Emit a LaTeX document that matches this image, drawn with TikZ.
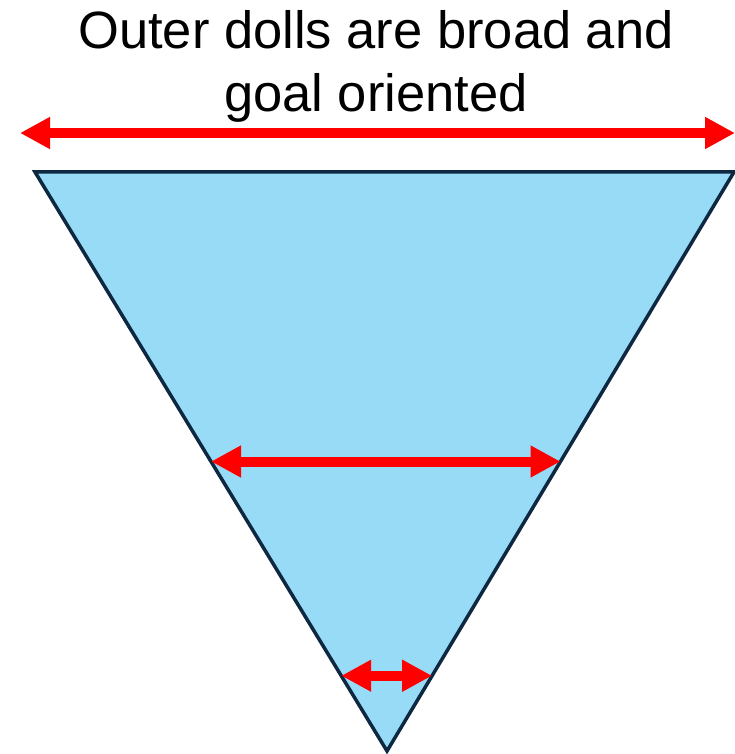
\documentclass[tikz,border=0pt]{standalone}
\usepackage{fontspec}
\setmainfont{Liberation Sans}
\usetikzlibrary{arrows.meta,calc}
\definecolor{dollfill}{HTML}{97DBF7}
\definecolor{dolledge}{HTML}{0E2841}
\definecolor{spanred}{HTML}{FF0000}

\begin{document}
\begin{tikzpicture}[x=1pt,y=-1pt,
  widtharrow/.style={spanred,line width=10pt,{Triangle[length=30pt,width=30pt]}-{Triangle[length=30pt,width=30pt]}}]
  \useasboundingbox (0,0) rectangle (735,754);
  % the doll cone
  \coordinate (tl) at (35,172);
  \coordinate (tr) at (734,172);
  \coordinate (apex) at (387,751);
  \fill[dollfill] (tl) -- (tr) -- (apex) -- cycle;
  \draw[dolledge,line width=3.5pt] (tl) -- (tr) -- (apex) -- cycle;
  \node[font=\fontsize{52.5}{63}\selectfont,align=center,anchor=base] (title) at (376,112) {Outer dolls are broad and\\goal oriented};
  % width arrows
  \coordinate (outerL) at (20,133);
  \coordinate (outerR) at (735,133);
  \coordinate (midL) at ($(tl)!0.5!(apex)$);
  \coordinate (midR) at ($(tr)!0.5!(apex)$);
  \coordinate (innerL) at ($(tl)!0.87!(apex)$);
  \coordinate (innerR) at ($(tr)!0.87!(apex)$);
  \draw[widtharrow] (outerL) -- (outerR);
  \draw[widtharrow] (midL) -- (midR);
  \draw[widtharrow] (innerL) -- (innerR);
\end{tikzpicture}
\end{document}
